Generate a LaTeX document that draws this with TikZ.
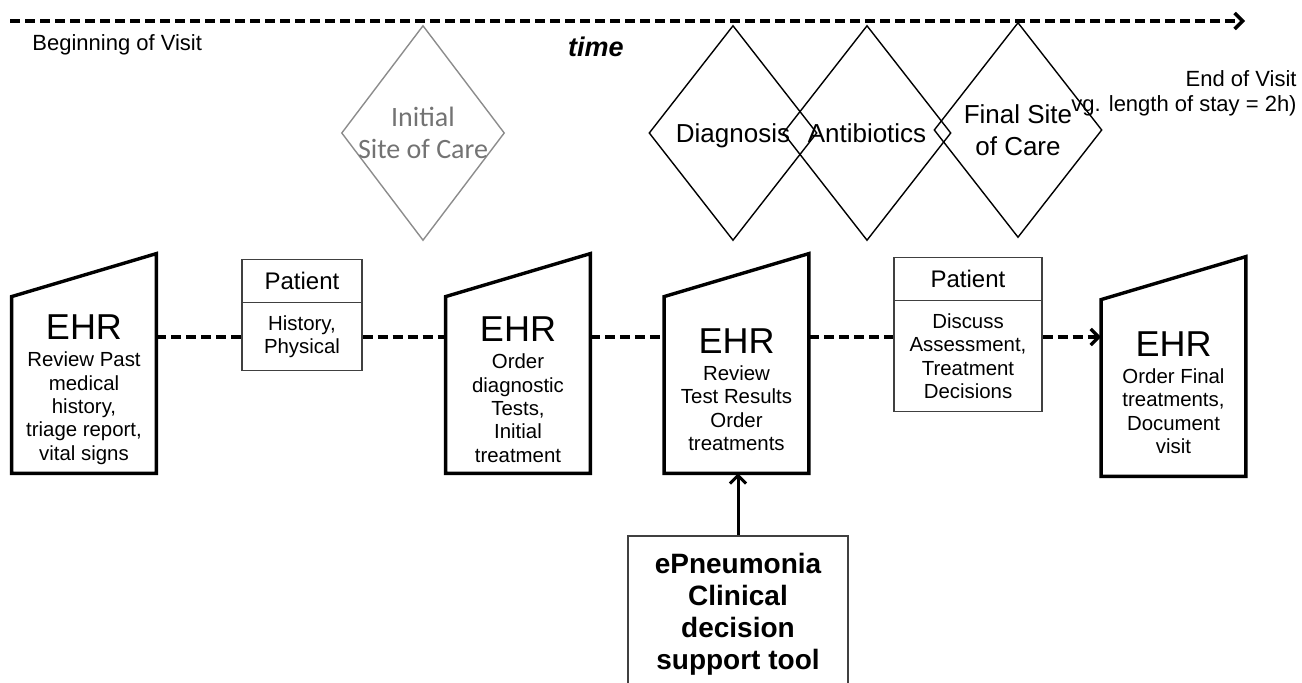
\documentclass[tikz,border=0pt]{standalone}
\usepackage{fontspec}
\setmainfont{Liberation Sans}
\newfontfamily\carlito{Carlito}
\usepackage{xcolor}
\usetikzlibrary{arrows.meta,shapes.geometric,shapes.multipart,calc}

% outline of an EHR screen: slanted top, higher on the right
\newcommand{\ehroutline}[1]{%
  \draw[ehrline] (#1.north west) -- (#1.south west) -- (#1.south east)
    -- ($(#1.north east)+(0,-43)$) -- cycle;}
% big title line of an EHR screen
\newcommand{\ehrtitle}{{\fontsize{18}{18}\selectfont\rule{0pt}{17pt}EHR}\\[2pt]}

\begin{document}
\begin{tikzpicture}[x=0.5pt, y=-0.5pt, >={Straight Barb[length=4pt,width=8pt]},
  every node/.style={align=center, font=\fontsize{10.2}{11.7}\selectfont},
  ehr/.style={minimum width=72pt, minimum height=88pt, inner sep=0pt},
  ehrline/.style={line width=1.7pt, line join=miter},
  choice/.style={draw, diamond, minimum width=84pt, minimum height=107.5pt, inner sep=0pt, line width=0.7pt},
  choicetext/.style={font=\fontsize{13}{16}\selectfont, align=center, text depth=0pt},
  patient/.style={draw=black!75, line width=0.7pt, rectangle split, rectangle split parts=2, inner xsep=2pt, inner ysep=6pt},
  link/.style={dash pattern=on 5pt off 2.5pt, line width=1.7pt}]
\useasboundingbox (0,0) rectangle (1302,683);
\clip (0,0) rectangle (1302,683);

% time axis
\coordinate (t0) at (10,21);
\coordinate (t1) at (1245,21);
\draw[link, ->] (t0) -- (t1);
\node (begin) [anchor=west, inner sep=0pt, font=\fontsize{11}{13}\selectfont] at (32,45) {Beginning of Visit};
\node (time) [inner sep=0pt, font=\fontsize{13.5}{16}\selectfont\bfseries\itshape] at (596,47) {time};
\node (end) [anchor=east, align=right, inner sep=0pt, font=\fontsize{11}{12.5}\selectfont] at (1297,93) {End of Visit\\vg. length of stay = 2h)};

% milestones
\node (initial) [choice, minimum width=81.5pt, draw=black!45,
  label={[choicetext, text=black!55, font=\carlito\fontsize{14}{16}\selectfont]center:Initial\\Site of Care}] at (423,133) {};
\node (diag) [choice, label={[choicetext]center:Diagnosis}] at (733,133) {};
\node (abx) [choice, label={[choicetext]center:Antibiotics}] at (867,133) {};
\node (final) [choice, label={[choicetext]center:Final Site\\of Care}] at (1018,130) {};

% EHR steps
\node (ehr1) [ehr] at (84,385) {\ehrtitle Review Past\\medical\\history,\\triage report,\\vital signs};
\node (ehr2) [ehr] at (518,385) {\ehrtitle Order\\diagnostic\\Tests,\\Initial\\treatment};
\node (ehr3) [ehr] at (736.5,385) {\ehrtitle Review\\Test Results\\Order\\treatments};
\node (ehr4) [ehr] at (1173.5,388) {\ehrtitle Order Final\\treatments,\\Document\\visit};
\ehroutline{ehr1}
\ehroutline{ehr2}
\ehroutline{ehr3}
\ehroutline{ehr4}

% patient encounters
\node (pat1) [patient, text width=56pt, anchor=north] at (302,259)
  {{\fontsize{12}{14}\selectfont Patient}\nodepart{two}History,\\Physical};
\node (pat2) [patient, text width=70pt, anchor=north] at (968,257)
  {{\fontsize{12}{14}\selectfont Patient}\nodepart{two}Discuss\\Assessment,\\Treatment\\Decisions};

% decision support
\node (tool) [draw=black!75, line width=0.9pt, minimum width=110pt, minimum height=78pt, anchor=north,
  font=\fontsize{14}{16}\selectfont\bfseries] at (738,535) {ePneumonia\\Clinical\\decision\\support tool};

\coordinate (lane) at (0,337);
\draw[link] (ehr1.east |- lane) -- (pat1.west |- lane);
\draw[link] (pat1.east |- lane) -- (ehr2.west |- lane);
\draw[link] (ehr2.east |- lane) -- (ehr3.west |- lane);
\draw[link] (ehr3.east |- lane) -- (pat2.west |- lane);
\draw[link, ->] (pat2.east |- lane) -- (ehr4.west |- lane);
\draw[->, line width=1.5pt] (tool.north) -- (tool.north |- ehr3.south);
\end{tikzpicture}
\end{document}
